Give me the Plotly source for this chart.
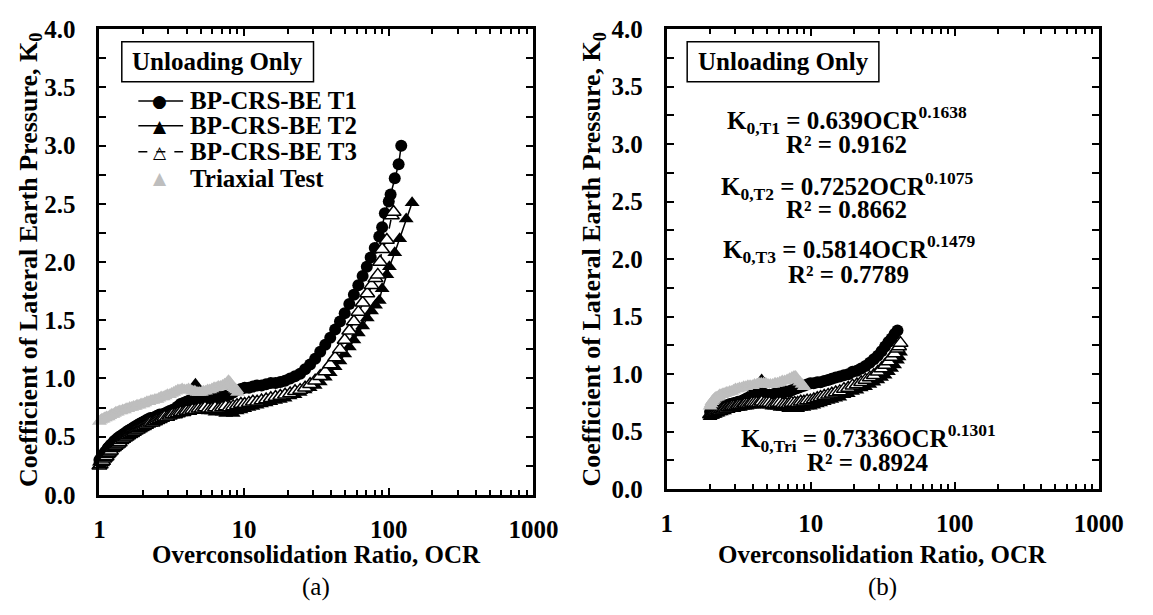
import plotly.graph_objects as go

# ---- (a) all unloading data ----
ocr_t1_a = [1.00, 1.02, 1.04, 1.06, 1.08, 1.10, 1.12, 1.14, 1.16, 1.18, 1.20, 1.23, 1.26, 1.29, 1.32, 1.35, 1.38, 1.42, 1.46, 1.50,
            1.54, 1.58, 1.63, 1.68, 1.73, 1.78, 1.84, 1.90, 1.96, 2.03, 2.10, 2.17, 2.25, 2.33, 2.42, 2.51, 2.61, 2.71, 2.82, 2.94,
            3.06, 3.19, 3.33, 3.48, 3.64, 3.81, 3.99, 4.18, 4.39, 4.61, 4.85, 5.10, 5.37, 5.66, 5.97, 6.30, 6.66, 7.05, 7.47, 7.92,
            8.41, 8.94, 9.51, 10.1, 10.8, 11.5, 12.3, 13.2, 14.2, 15.3, 16.5, 17.8, 19.2, 20.8, 22.5, 24.4, 26.4, 28.6, 31.0, 33.6,
            36.4, 39.4, 42.6, 46.0, 49.6, 53.4, 57.4, 61.6, 66.0, 70.5, 75.0, 80.0, 86.0, 90.0, 94.0, 100.0, 103.0, 110.0, 117.0, 122.0]
k_t1_a = [0.30, 0.31, 0.33, 0.34, 0.36, 0.37, 0.38, 0.40, 0.41, 0.42, 0.43, 0.44, 0.46, 0.47, 0.48, 0.49, 0.50, 0.51, 0.52, 0.53,
          0.54, 0.55, 0.56, 0.57, 0.58, 0.59, 0.60, 0.61, 0.62, 0.63, 0.64, 0.65, 0.66, 0.66, 0.67, 0.68, 0.69, 0.69, 0.70, 0.71,
          0.72, 0.73, 0.74, 0.76, 0.78, 0.79, 0.80, 0.81, 0.80, 0.80, 0.81, 0.81, 0.82, 0.82, 0.83, 0.83, 0.84, 0.84, 0.85, 0.86,
          0.88, 0.90, 0.91, 0.92, 0.92, 0.93, 0.94, 0.94, 0.95, 0.96, 0.96, 0.97, 0.98, 1.00, 1.02, 1.04, 1.08, 1.12, 1.17, 1.23,
          1.29, 1.35, 1.42, 1.49, 1.56, 1.64, 1.72, 1.80, 1.88, 1.96, 2.04, 2.12, 2.22, 2.30, 2.42, 2.52, 2.58, 2.72, 2.84, 3.00]

ocr_t2_a = [1.00, 1.02, 1.04, 1.06, 1.08, 1.10, 1.12, 1.14, 1.16, 1.18, 1.20, 1.23, 1.26, 1.29, 1.32, 1.35, 1.38, 1.42, 1.46, 1.50,
            1.54, 1.58, 1.63, 1.68, 1.73, 1.78, 1.84, 1.90, 1.96, 2.03, 2.10, 2.17, 2.25, 2.33, 2.42, 2.51, 2.61, 2.71, 2.82, 2.94,
            3.06, 3.19, 3.33, 3.48, 3.64, 3.81, 3.99, 4.18, 4.39, 4.61, 4.85, 5.10, 5.37, 5.66, 5.97, 6.30, 6.66, 7.05, 7.47, 7.92,
            8.41, 8.94, 9.51, 10.1, 10.8, 11.5, 12.3, 13.2, 14.2, 15.3, 16.5, 17.8, 19.2, 20.8, 22.5, 24.4, 26.4, 28.6, 31.0, 33.6,
            36.4, 39.4, 42.6, 46.0, 49.6, 53.4, 57.4, 61.6, 66.0, 71.0, 76.0, 81.0, 86.0, 90.0, 97.0, 101.0, 110.0, 119.0, 132.0, 145.0]
k_t2_a = [0.28, 0.30, 0.31, 0.33, 0.34, 0.36, 0.37, 0.38, 0.39, 0.41, 0.42, 0.43, 0.45, 0.46, 0.47, 0.48, 0.49, 0.50, 0.51, 0.52,
          0.53, 0.54, 0.55, 0.56, 0.57, 0.58, 0.59, 0.60, 0.61, 0.62, 0.63, 0.63, 0.64, 0.65, 0.66, 0.67, 0.67, 0.68, 0.69, 0.70,
          0.70, 0.71, 0.72, 0.72, 0.73, 0.73, 0.74, 0.74, 0.73, 0.95, 0.74, 0.73, 0.73, 0.72, 0.72, 0.71, 0.72, 0.71, 0.70, 0.71,
          0.70, 0.72, 0.73, 0.74, 0.75, 0.76, 0.77, 0.78, 0.79, 0.80, 0.81, 0.82, 0.83, 0.85, 0.86, 0.88, 0.90, 0.92, 0.94, 0.97,
          1.01, 1.05, 1.10, 1.15, 1.21, 1.27, 1.33, 1.39, 1.45, 1.52, 1.58, 1.63, 1.67, 1.77, 1.89, 1.96, 2.08, 2.20, 2.37, 2.51]

ocr_t3_a = [1.00, 1.02, 1.04, 1.06, 1.08, 1.10, 1.12, 1.14, 1.16, 1.18, 1.20, 1.23, 1.26, 1.29, 1.32, 1.35, 1.38, 1.42, 1.46, 1.50,
            1.54, 1.58, 1.63, 1.68, 1.73, 1.78, 1.84, 1.90, 1.96, 2.03, 2.10, 2.17, 2.25, 2.33, 2.42, 2.51, 2.61, 2.71, 2.82, 2.94,
            3.06, 3.19, 3.33, 3.48, 3.64, 3.81, 3.99, 4.18, 4.39, 4.61, 4.85, 5.10, 5.37, 5.66, 5.97, 6.30, 6.66, 7.05, 7.47, 7.92,
            8.41, 8.94, 9.51, 10.1, 10.8, 11.5, 12.3, 13.2, 14.2, 15.3, 16.5, 17.8, 19.2, 20.8, 22.5, 24.4, 26.4, 28.6, 31.0, 33.6,
            36.4, 39.4, 42.6, 46.0, 49.6, 53.4, 57.4, 61.6, 66.0, 71.0, 76.0, 81.0, 84.0, 87.0, 90.0, 97.0, 105.0, 108.0]
k_t3_a = [0.25, 0.26, 0.28, 0.29, 0.31, 0.32, 0.33, 0.35, 0.36, 0.37, 0.38, 0.40, 0.41, 0.42, 0.43, 0.44, 0.45, 0.47, 0.48, 0.49,
          0.50, 0.51, 0.52, 0.53, 0.54, 0.55, 0.56, 0.57, 0.58, 0.59, 0.60, 0.61, 0.62, 0.62, 0.63, 0.64, 0.65, 0.66, 0.67, 0.67,
          0.68, 0.69, 0.69, 0.70, 0.71, 0.71, 0.72, 0.72, 0.73, 0.73, 0.74, 0.74, 0.75, 0.74, 0.74, 0.75, 0.74, 0.75, 0.76, 0.75,
          0.76, 0.77, 0.78, 0.78, 0.79, 0.80, 0.80, 0.81, 0.82, 0.83, 0.84, 0.85, 0.86, 0.87, 0.89, 0.90, 0.92, 0.95, 0.98, 1.02,
          1.06, 1.12, 1.18, 1.25, 1.33, 1.41, 1.49, 1.57, 1.65, 1.73, 1.80, 1.86, 1.89, 2.00, 2.11, 2.19, 2.40, 2.43]

ocr_tri_a = [1.00, 1.02, 1.04, 1.06, 1.08, 1.10, 1.12, 1.15, 1.18, 1.21, 1.24, 1.27, 1.30, 1.33, 1.37, 1.41, 1.45, 1.49, 1.53, 1.57,
             1.62, 1.67, 1.72, 1.77, 1.82, 1.88, 1.94, 2.00, 2.06, 2.13, 2.20, 2.27, 2.34, 2.42, 2.50, 2.58, 2.67, 2.76, 2.85, 2.95,
             3.05, 3.15, 3.26, 3.37, 3.49, 3.61, 3.73, 3.86, 3.99, 4.13, 4.27, 4.42, 4.57, 4.73, 4.89, 5.06, 5.23, 5.41, 5.60, 5.79,
             5.99, 6.20, 6.41, 6.63, 6.86, 7.10, 7.34, 7.59, 7.80, 7.95, 8.10, 8.30, 8.50, 8.70, 8.90, 9.00]
k_tri_a = [0.63, 0.64, 0.65, 0.65, 0.66, 0.66, 0.67, 0.67, 0.68, 0.69, 0.69, 0.70, 0.71, 0.71, 0.72, 0.72, 0.73, 0.73, 0.74, 0.74,
           0.75, 0.75, 0.76, 0.76, 0.77, 0.77, 0.78, 0.78, 0.79, 0.80, 0.80, 0.81, 0.81, 0.82, 0.82, 0.83, 0.84, 0.84, 0.85, 0.86,
           0.86, 0.87, 0.88, 0.89, 0.90, 0.90, 0.91, 0.90, 0.90, 0.91, 0.90, 0.89, 0.89, 0.88, 0.88, 0.88, 0.89, 0.89, 0.90, 0.90,
           0.91, 0.92, 0.92, 0.93, 0.93, 0.94, 0.95, 0.96, 0.98, 0.97, 0.95, 0.93, 0.92, 0.91, 0.90, 0.88]

# ---- (b) unloading data, OCR from the unloading start ----
ocr_t1_b = [2.00, 2.04, 2.08, 2.12, 2.17, 2.22, 2.27, 2.33, 2.39, 2.45, 2.52, 2.59, 2.67, 2.75, 2.84, 2.93, 3.03, 3.13, 3.24, 3.36,
            3.48, 3.61, 3.75, 3.90, 4.05, 4.21, 4.38, 4.56, 4.75, 4.95, 5.16, 5.38, 5.62, 5.87, 6.13, 6.41, 6.71, 7.03, 7.37, 7.73,
            8.11, 8.52, 8.96, 9.43, 9.93, 10.5, 11.1, 11.7, 12.4, 13.2, 14.0, 14.9, 15.9, 17.0, 18.2, 19.5, 20.9, 22.4, 24.0, 25.7,
            27.4, 29.2, 31.0, 32.8, 34.6, 36.4, 38.2, 40.0]
k_t1_b = [0.67, 0.68, 0.68, 0.69, 0.69, 0.70, 0.70, 0.71, 0.71, 0.72, 0.72, 0.73, 0.73, 0.74, 0.74, 0.75, 0.75, 0.76, 0.76, 0.77,
          0.78, 0.79, 0.80, 0.82, 0.83, 0.84, 0.84, 0.83, 0.83, 0.82, 0.82, 0.82, 0.83, 0.83, 0.84, 0.84, 0.85, 0.85, 0.86, 0.87,
          0.88, 0.89, 0.90, 0.91, 0.92, 0.92, 0.93, 0.93, 0.94, 0.95, 0.96, 0.97, 0.98, 0.99, 1.00, 1.02, 1.03, 1.05, 1.07, 1.10,
          1.13, 1.16, 1.20, 1.24, 1.28, 1.31, 1.35, 1.38]

ocr_t2_b = [2.00, 2.04, 2.08, 2.12, 2.17, 2.22, 2.27, 2.33, 2.39, 2.45, 2.52, 2.59, 2.67, 2.75, 2.84, 2.93, 3.03, 3.13, 3.24, 3.36,
            3.48, 3.61, 3.75, 3.90, 4.05, 4.21, 4.38, 4.56, 4.75, 4.95, 5.16, 5.38, 5.62, 5.87, 6.13, 6.41, 6.71, 7.03, 7.37, 7.73,
            8.11, 8.52, 8.96, 9.43, 9.93, 10.5, 11.1, 11.7, 12.4, 13.2, 14.0, 14.9, 15.9, 17.0, 18.2, 19.5, 20.9, 22.4, 24.0, 25.7,
            27.4, 29.2, 31.0, 32.8, 34.6, 36.4, 38.2, 40.0, 41.0, 42.0]
k_t2_b = [0.63, 0.64, 0.64, 0.65, 0.65, 0.66, 0.66, 0.67, 0.67, 0.68, 0.68, 0.69, 0.69, 0.70, 0.70, 0.70, 0.71, 0.71, 0.71, 0.72,
          0.72, 0.72, 0.73, 0.73, 0.73, 0.74, 0.74, 0.95, 0.74, 0.73, 0.73, 0.72, 0.72, 0.72, 0.71, 0.71, 0.71, 0.70, 0.70, 0.70,
          0.70, 0.71, 0.71, 0.72, 0.72, 0.73, 0.74, 0.75, 0.76, 0.77, 0.78, 0.79, 0.80, 0.82, 0.83, 0.85, 0.86, 0.88, 0.89, 0.91,
          0.93, 0.95, 0.97, 0.99, 1.02, 1.05, 1.08, 1.12, 1.15, 1.19]

ocr_t3_b = [2.00, 2.04, 2.08, 2.12, 2.17, 2.22, 2.27, 2.33, 2.39, 2.45, 2.52, 2.59, 2.67, 2.75, 2.84, 2.93, 3.03, 3.13, 3.24, 3.36,
            3.48, 3.61, 3.75, 3.90, 4.05, 4.21, 4.38, 4.56, 4.75, 4.95, 5.16, 5.38, 5.62, 5.87, 6.13, 6.41, 6.71, 7.03, 7.37, 7.73,
            8.11, 8.52, 8.96, 9.43, 9.93, 10.5, 11.1, 11.7, 12.4, 13.2, 14.0, 14.9, 15.9, 17.0, 18.2, 19.5, 20.9, 22.4, 24.0, 25.7,
            27.4, 29.2, 31.0, 32.8, 34.6, 36.4, 38.2, 40.0, 41.0, 42.0]
k_t3_b = [0.65, 0.65, 0.66, 0.66, 0.67, 0.67, 0.68, 0.68, 0.69, 0.69, 0.70, 0.70, 0.71, 0.71, 0.72, 0.72, 0.72, 0.73, 0.73, 0.73,
          0.74, 0.74, 0.74, 0.75, 0.75, 0.75, 0.75, 0.76, 0.75, 0.75, 0.75, 0.74, 0.74, 0.75, 0.75, 0.74, 0.74, 0.74, 0.75, 0.75,
          0.75, 0.76, 0.76, 0.77, 0.77, 0.78, 0.79, 0.80, 0.81, 0.82, 0.83, 0.84, 0.85, 0.87, 0.88, 0.90, 0.91, 0.93, 0.95, 0.97,
          0.99, 1.02, 1.05, 1.08, 1.11, 1.15, 1.18, 1.22, 1.24, 1.27]

ocr_tri_b = [2.00, 2.03, 2.06, 2.09, 2.12, 2.16, 2.20, 2.24, 2.29, 2.34, 2.40, 2.46, 2.52, 2.59, 2.66, 2.74, 2.82, 2.91, 3.00, 3.10,
             3.20, 3.31, 3.42, 3.54, 3.66, 3.79, 3.93, 4.07, 4.22, 4.37, 4.53, 4.70, 4.87, 5.05, 5.24, 5.44, 5.65, 5.87, 6.10, 6.34,
             6.59, 6.85, 7.12, 7.40, 7.65, 7.85, 8.10, 8.40, 8.70, 9.00]
k_tri_b = [0.72, 0.74, 0.76, 0.77, 0.78, 0.79, 0.80, 0.80, 0.81, 0.82, 0.82, 0.83, 0.83, 0.84, 0.84, 0.85, 0.85, 0.86, 0.87, 0.87,
           0.88, 0.88, 0.89, 0.89, 0.90, 0.90, 0.90, 0.91, 0.91, 0.92, 0.92, 0.92, 0.92, 0.91, 0.91, 0.91, 0.92, 0.92, 0.93, 0.94,
           0.94, 0.95, 0.96, 0.97, 0.98, 0.98, 0.95, 0.93, 0.91, 0.89]

series_names = ["BP-CRS-BE T1", "BP-CRS-BE T2", "BP-CRS-BE T3", "Triaxial Test"]
fit_lines = [("K<sub>0,T1</sub> = 0.639OCR<sup>0.1638</sup>", "R² = 0.9162"),
             ("K<sub>0,T2</sub> = 0.7252OCR<sup>0.1075</sup>", "R² = 0.8662"),
             ("K<sub>0,T3</sub> = 0.5814OCR<sup>0.1479</sup>", "R² = 0.7789"),
             ("K<sub>0,Tri</sub> = 0.7336OCR<sup>0.1301</sup>", "R² = 0.8924")]
x_ticks = [1, 10, 100, 1000]
x_minor = [2, 3, 4, 5, 6, 7, 8, 9, 20, 30, 40, 50, 60, 70, 80, 90, 200, 300, 400, 500, 600, 700, 800, 900]

W, H = 1153, 615
FONT = "Liberation Serif, Times New Roman, serif"
GRAY = "#BEBEBE"


def px(x):
    return x / W


def py(y):
    return 1 - y / H


def add_series(fig, xa, ya, data):
    (o1, k1), (o2, k2), (o3, k3), (ot, kt) = data
    fig.add_trace(go.Scatter(x=o1, y=k1, mode="lines+markers", xaxis=xa, yaxis=ya, cliponaxis=False,
                             line={"color": "black", "width": 1.5},
                             marker={"symbol": "circle", "size": 12, "color": "black"},
                             name=series_names[0], showlegend=False))
    fig.add_trace(go.Scatter(x=o2, y=k2, mode="lines+markers", xaxis=xa, yaxis=ya, cliponaxis=False,
                             line={"color": "black", "width": 1.5},
                             marker={"symbol": "triangle-up", "size": 13, "color": "black"},
                             name=series_names[1], showlegend=False))
    fig.add_trace(go.Scatter(x=o3, y=k3, mode="lines+markers", xaxis=xa, yaxis=ya, cliponaxis=False,
                             line={"color": "black", "width": 1.5, "dash": "dash"},
                             marker={"symbol": "triangle-up", "size": 13, "color": "white",
                                     "line": {"color": "black", "width": 1.5}},
                             name=series_names[2], showlegend=False))
    fig.add_trace(go.Scatter(x=ot, y=kt, mode="markers", xaxis=xa, yaxis=ya, cliponaxis=False,
                             marker={"symbol": "triangle-up", "size": 13, "color": GRAY},
                             name=series_names[3], showlegend=False))


fig = go.Figure()
add_series(fig, "x", "y", [(ocr_t1_a, k_t1_a), (ocr_t2_a, k_t2_a), (ocr_t3_a, k_t3_a), (ocr_tri_a, k_tri_a)])
add_series(fig, "x2", "y2", [(ocr_t1_b, k_t1_b), (ocr_t2_b, k_t2_b), (ocr_t3_b, k_t3_b), (ocr_tri_b, k_tri_b)])

tick_font = {"family": FONT, "size": 25, "color": "black", "weight": "bold"}
xaxis_style = dict(type="log", range=[0, 3], showgrid=False, zeroline=False, showline=True, linewidth=3,
                   linecolor="black", mirror="ticks", ticks="inside", ticklen=7, tickwidth=2, tickcolor="black",
                   tickvals=x_ticks, ticktext=[str(v) for v in x_ticks], tickfont=tick_font,
                   ticklabelstandoff=10,
                   minor={"tickvals": x_minor, "ticks": "inside", "ticklen": 5, "tickwidth": 2,
                          "tickcolor": "black"})
yaxis_style = dict(range=[0, 4], showgrid=False, zeroline=False, showline=True, linewidth=3,
                   linecolor="black", mirror="ticks", ticks="inside", ticklen=7, tickwidth=2, tickcolor="black",
                   tick0=0, dtick=0.5, tickformat=".1f", tickfont=tick_font, ticklabelstandoff=16,
                   minor={"dtick": 0.25, "ticks": "inside", "ticklen": 7, "tickwidth": 2, "tickcolor": "black"})

fig.update_layout(
    width=W, height=H,
    margin={"l": 0, "r": 0, "t": 0, "b": 0},
    paper_bgcolor="white", plot_bgcolor="white",
    showlegend=False,
    font={"family": FONT, "color": "black"},
    xaxis=dict(xaxis_style, domain=[px(96), px(542)], anchor="y"),
    yaxis=dict(yaxis_style, domain=[py(504), py(17)], anchor="x"),
    xaxis2=dict(xaxis_style, domain=[px(679), px(1123)], anchor="y2"),
    yaxis2=dict(yaxis_style, domain=[py(498), py(17)], anchor="x2"),
)

bold = {"family": FONT, "size": 25, "color": "black", "weight": "bold"}
ann = []
shapes = []


def label(x, y, text, font, xanchor="center", **kw):
    ann.append(dict(x=px(x), y=py(y), xref="paper", yref="paper", showarrow=False, text=text, font=font,
                    xanchor=xanchor, yanchor="middle", **kw))


# axis titles and panel letters
for cx, lx in [(319, 24), (901, 603)]:
    label(cx, 566, "Overconsolidation Ratio, OCR", bold)
    label(lx, 258, "Coefficient of Lateral Earth Pressure, K<sub>0</sub>", dict(bold, size=26), textangle=-90)
label(319, 600, "(a)", {"family": FONT, "size": 25, "color": "black"})
label(901, 600, "(b)", {"family": FONT, "size": 25, "color": "black"})

# "Unloading Only" boxes
for x0 in [119, 700]:
    shapes.append(dict(type="rect", xref="paper", yref="paper", x0=px(x0), x1=px(x0 + 197),
                       y0=py(72), y1=py(30), line={"color": "black", "width": 1.5}, fillcolor="white"))
    label(x0 + 98.5, 51, "Unloading Only", bold)

# legend of panel (a)
legend_rows = [(92, "●", "black", "solid"), (118, "▲", "black", "solid"),
               (145, "△", "black", "dash"), (173, "▲", GRAY, None)]
for (ly, sym, col, dash), name in zip(legend_rows, series_names):
    if dash:
        shapes.append(dict(type="line", xref="paper", yref="paper", x0=px(136), x1=px(182), y0=py(ly), y1=py(ly),
                           line={"color": "black", "width": 1.5, "dash": dash}))
    label(158, ly, sym, {"family": "DejaVu Sans", "size": 17, "color": col})
    label(187, ly, name, bold, xanchor="left")

# fitted power laws in panel (b)
fit_pos = [(864, 112, 138), (864, 181, 206), (866, 247, 273), (886, 444, 470)]
for (cx, y1, y2), (eq, r2) in zip(fit_pos, fit_lines):
    label(cx, y1, eq, bold)
    label(cx, y2, r2, bold)

fig.update_layout(annotations=ann, shapes=shapes)
# the page body keeps its default 8px margin otherwise, which shifts the whole figure
fig.write_html("out.html", config={"displayModeBar": False},
               post_script="document.documentElement.style.margin='0';"
                           "document.body.style.margin='0';"
                           "document.body.style.overflow='hidden';")
